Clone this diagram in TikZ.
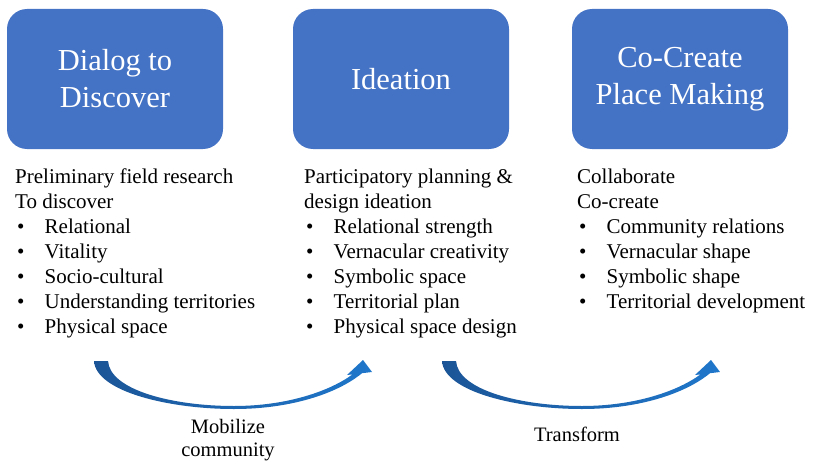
\documentclass[tikz,border=0pt]{standalone}
\usepackage{fontspec}
\setmainfont{Liberation Serif}
\usetikzlibrary{positioning}
\definecolor{boxblue}{HTML}{4472C4}
\definecolor{arrdark}{HTML}{1B5597}
\definecolor{arrlight}{HTML}{1F77CB}
\tikzstyle{stage}=[rounded corners=20pt,fill=boxblue,text=white,minimum width=216pt,minimum height=140pt,align=center,font=\fontsize{30.5}{37}\selectfont]
\tikzstyle{lst}=[anchor=north west,align=left,inner sep=0pt,font=\fontsize{21}{25}\selectfont]
\tikzstyle{lab}=[align=center,inner sep=0pt,font=\fontsize{20.5}{23}\selectfont]
\newcommand{\bul}{\hspace*{2pt}\makebox[27.5pt][l]{\textbullet}}

\begin{document}
\begin{tikzpicture}[x=1pt,y=-1pt]
    \useasboundingbox (0,0) rectangle (813,468);
    % stage boxes
    \foreach \n/\x/\t in {dlg/115/{Dialog to\\Discover}, ide/401/{Ideation}, cop/680/{Co-Create\\Place Making}}
        \node[stage] (\n) at (\x,79) {\t};
    % lists under the boxes
    \node[lst] (txt1) at (15,165.5) {\strut Preliminary field research\\To discover\\\bul Relational\\\bul Vitality\\\bul Socio-cultural\\\bul Understanding territories\\\bul Physical space};
    \node[lst] (txt2) at (304,165.5) {\strut Participatory planning \&\\design ideation\\\bul Relational strength\\\bul Vernacular creativity\\\bul Symbolic space\\\bul Territorial plan\\\bul Physical space design};
    \node[lst] (txt3) at (577,165.5) {\strut Collaborate\\Co-create\\\bul Community relations\\\bul Vernacular shape\\\bul Symbolic shape\\\bul Territorial development};
    % curved arrows
    \foreach \dx in {0,348}
        \shade[left color=arrdark,right color=arrlight,shift={(\dx,0)}]
            (94,361) .. controls (96,392) and (170,409) .. (234,409)
            .. controls (292,409) and (338,393) .. (362,373.2)
            -- (372,372) -- (363,360) -- (347,375) -- (352.5,374.4)
            .. controls (330,391) and (287,406) .. (234,406)
            .. controls (172,406) and (110,390) .. (108,361) -- cycle;
    \node[lab] (mob) at (228,440) {Mobilize\\community};
    \node[lab] (trf) at (577,434) {Transform};
\end{tikzpicture}
\end{document}
